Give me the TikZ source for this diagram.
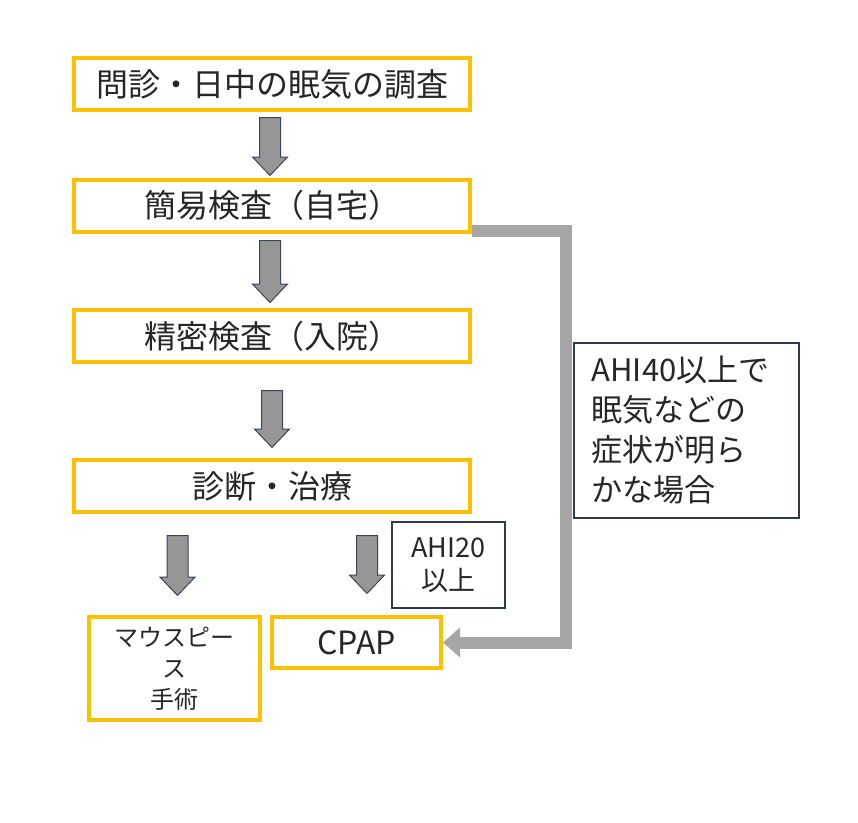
\documentclass[tikz,border=0pt]{standalone}
\usepackage{fontspec}
\setmainfont{Noto Sans CJK JP}
\usetikzlibrary{shapes.arrows,arrows.meta}

\definecolor{boxgold}{HTML}{FFC000}
\definecolor{arrgray}{HTML}{969696}
\definecolor{arredge}{HTML}{3B4556}
\definecolor{linkgray}{HTML}{A6A6A6}
\definecolor{noteedge}{HTML}{2F3A4C}

\pgfdeclarelayer{background}
\pgfsetlayers{background,main}

\begin{document}
\begin{tikzpicture}[x=1pt,y=-1pt,
  goldbox/.style={draw=boxgold,line width=4pt,fill=white,align=center,inner sep=0pt,text=black!85},
  notebox/.style={draw=noteedge,line width=1.2pt,fill=white,inner sep=0pt,text=black!85},
  downarr/.style={single arrow,rotate=-90,anchor=tail,draw=arredge,line width=1pt,fill=arrgray,
    inner sep=10pt,single arrow head extend=7pt,single arrow tip angle=87},
  bigtext/.style={font=\fontsize{32}{38}\selectfont}]

  \useasboundingbox (0,0) rectangle (858,822);

  % Main column
  \node[goldbox,bigtext,minimum width=396pt,minimum height=52pt] (interview) at (272,84) {問診・日中の眠気の調査};
  \node[goldbox,bigtext,minimum width=396pt,minimum height=52pt] (home) at (272,205.5) {簡易検査（自宅）};
  \node[goldbox,bigtext,minimum width=396pt,minimum height=52pt] (inpatient) at (272,336) {精密検査（入院）};
  \node[goldbox,bigtext,minimum width=396pt,minimum height=52pt] (diagnosis) at (272,486) {診断・治療};

  % Treatments
  \node[goldbox,font=\fontsize{24}{31}\selectfont,minimum width=171pt,minimum height=103pt] (mouthpiece) at (174.5,668.5) {マウスピー\\ス\\手術};
  \node[goldbox,bigtext,minimum width=169pt,minimum height=51pt] (cpap) at (356.5,642.5) {CPAP};

  % Notes
  \node[notebox,font=\fontsize{27}{33}\selectfont,align=center,minimum width=113pt,minimum height=86pt] (ahitwenty) at (448.5,565) {AHI20\\以上};
  \node[notebox,font=\fontsize{31}{40}\selectfont,text width=190pt,align=left,minimum width=225pt,minimum height=175pt] (ahiforty) at (686.5,430.5) {AHI40以上で\\眠気などの\\症状が明ら\\かな場合};

  % Block arrows (placed by their tails)
  \node[downarr,minimum height=58pt] (a1) at (270,117) {};
  \node[downarr,minimum height=62pt] (a2) at (270,240) {};
  \node[downarr,minimum height=57pt] (a3) at (272,390) {};
  \node[downarr,minimum height=60pt] (a4) at (177.5,535) {};
  \node[downarr,minimum height=58pt] (a5) at (367,535) {};

  % Feedback line, behind the boxes
  \coordinate (bend) at (566,642.5);
  \begin{pgfonlayer}{background}
    \fill[white] (0,0) rectangle (858,822);
    \draw[linkgray,line width=12pt,-{Triangle[width=29pt,length=17pt]}]
      ([yshift=3pt]home.south east) -| (bend) -- (cpap.east);
  \end{pgfonlayer}
\end{tikzpicture}
\end{document}
